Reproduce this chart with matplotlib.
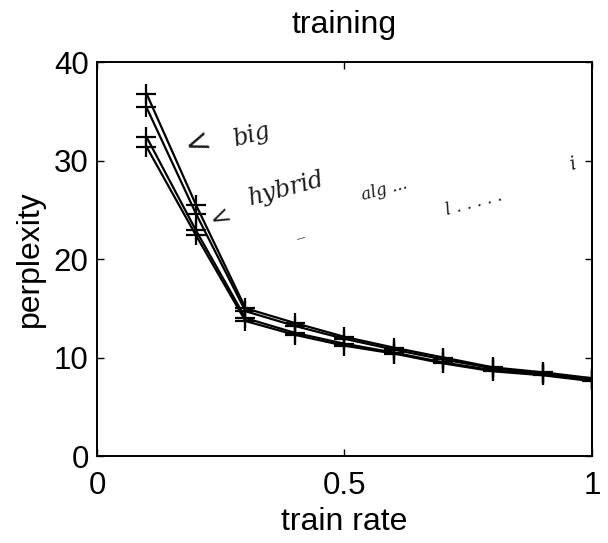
import matplotlib
matplotlib.use("Agg")
import matplotlib.pyplot as plt

# training perplexity versus fraction of data used for training
train_rate = [0.1, 0.2, 0.3, 0.4, 0.5, 0.6, 0.7, 0.8, 0.9, 1.0]
big_a = [36.8, 25.5, 15.0, 13.5, 12.1, 11.0, 10.0, 9.0, 8.5, 7.9]
big_b = [35.4, 24.6, 14.7, 13.2, 11.9, 10.8, 9.8, 8.9, 8.4, 7.8]
hyb_a = [32.4, 22.9, 14.0, 12.5, 11.4, 10.5, 9.5, 8.7, 8.3, 7.7]
hyb_b = [31.4, 22.4, 13.7, 12.3, 11.2, 10.4, 9.4, 8.6, 8.2, 7.6]

x_ticks = [0, 0.5, 1]
x_tick_labels = ["0", "0.5", "1"]
y_ticks = [0, 10, 20, 30, 40]

plt.rcParams["font.family"] = ["Liberation Sans", "DejaVu Sans"]

fig = plt.figure(figsize=(6.08, 5.43), dpi=100)
ax = fig.add_axes([0.1595, 0.1602, 0.8142, 0.7256])

for series in (big_a, big_b, hyb_a, hyb_b):
    ax.plot(train_rate, series, color="black", lw=1.6, marker="+",
            markersize=14, markeredgewidth=1.6)

ax.set_xlim(0, 1)
ax.set_ylim(0, 40)
ax.set_xticks(x_ticks)
ax.set_xticklabels(x_tick_labels)
ax.set_yticks(y_ticks)
ax.tick_params(direction="in", top=True, right=True, labelsize=22.5,
               length=5, width=1)
ax.tick_params(axis="x", pad=11)
ax.tick_params(axis="y", pad=6)
for s in ax.spines.values():
    s.set_linewidth(1.4)

ax.set_title("training", fontsize=23, pad=21)
ax.set_xlabel("train rate", fontsize=23, labelpad=4)
ax.set_ylabel("perplexity", fontsize=23, labelpad=6)

# pencil notes scribbled beside the curves
note = dict(color="#1a1a1a", fontstyle="italic", family="DejaVu Serif",
            fontweight="light")
ax.text(0.17, 30.5, "<", fontsize=22, rotation=20, **note)
ax.text(0.27, 31.5, "big", fontsize=17, rotation=15, **note)
ax.text(0.22, 23.2, "<", fontsize=18, rotation=25, **note)
ax.text(0.30, 25.5, "hybrid", fontsize=17, rotation=15, **note)
ax.text(0.40, 21.5, "--", fontsize=11, rotation=15, **note)
ax.text(0.53, 26.0, "alg ...", fontsize=12, rotation=15, **note)
ax.text(0.70, 24.5, "l . . . . .", fontsize=12, rotation=15, **note)
ax.text(0.95, 29.0, "i", fontsize=13, rotation=15, **note)

fig.savefig("out.png", dpi=100)
